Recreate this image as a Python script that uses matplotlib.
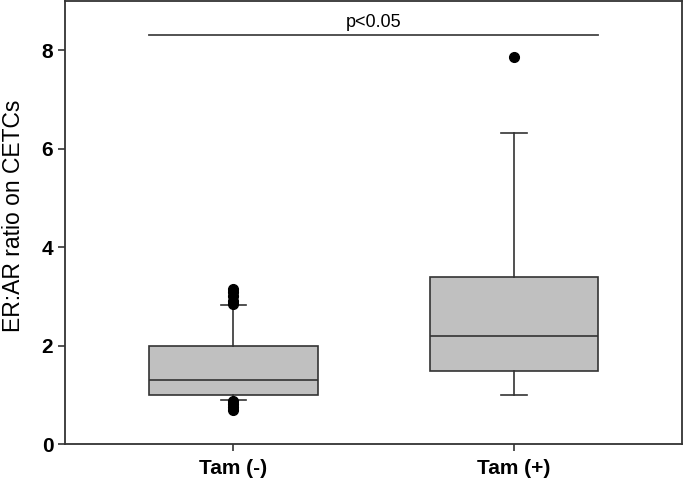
import matplotlib
matplotlib.use("Agg")
import matplotlib.pyplot as plt

# box statistics
groups = ["Tam (-)", "Tam (+)"]
q1 = [1.0, 1.48]
med = [1.3, 2.2]
q3 = [2.0, 3.4]
whislo = [0.89, 0.99]
whishi = [2.83, 6.32]
fliers = [[3.15, 3.08, 3.0, 2.9, 2.85, 0.88, 0.82, 0.76, 0.7], [7.87]]
sig_text = "p<0.05"
sig_y = 8.3

plt.rcParams['font.family'] = ['Liberation Sans', 'DejaVu Sans']

fig = plt.figure(figsize=(6.85, 4.87), dpi=100)
ax = fig.add_axes([0.095, 0.088, 0.901, 0.910])

stats = []
for i in range(len(groups)):
    stats.append({'label': groups[i], 'q1': q1[i], 'med': med[i], 'q3': q3[i],
                  'whislo': whislo[i], 'whishi': whishi[i], 'fliers': fliers[i]})

edge = '#333333'
ax.bxp(stats, positions=[1, 2], widths=0.6, patch_artist=True,
       boxprops=dict(facecolor='#c0c0c0', edgecolor=edge, linewidth=1.2),
       medianprops=dict(color=edge, linewidth=1.2),
       whiskerprops=dict(color=edge, linewidth=1.2),
       capprops=dict(color=edge, linewidth=1.2),
       capwidths=0.09,
       flierprops=dict(marker='o', markerfacecolor='black', markeredgecolor='black', markersize=7))

# significance bar
ax.plot([0.7, 2.3], [sig_y, sig_y], color='#444444', linewidth=1.3)
ax.text(1.5, sig_y + 0.1, sig_text, ha='center', va='bottom', fontsize=13)

ax.set_xlim(0.4, 2.6)
ax.set_ylim(0, 9)
ax.set_yticks([0, 2, 4, 6, 8])
ax.set_xticks([1, 2])
ax.set_xticklabels(groups, fontsize=15, fontweight='bold')
for lab in ax.get_yticklabels():
    lab.set_fontsize(15)
    lab.set_fontweight('bold')
ax.tick_params(axis='both', direction='out', length=5, width=1.2, color=edge)
ax.tick_params(axis='x', pad=6)
for s in ax.spines.values():
    s.set_color(edge)
    s.set_linewidth(1.3)
ax.set_ylabel("ER:AR ratio on CETCs", fontsize=16.5)
ax.yaxis.set_label_coords(-0.065, 0.515)

fig.savefig("out.png", dpi=100)
